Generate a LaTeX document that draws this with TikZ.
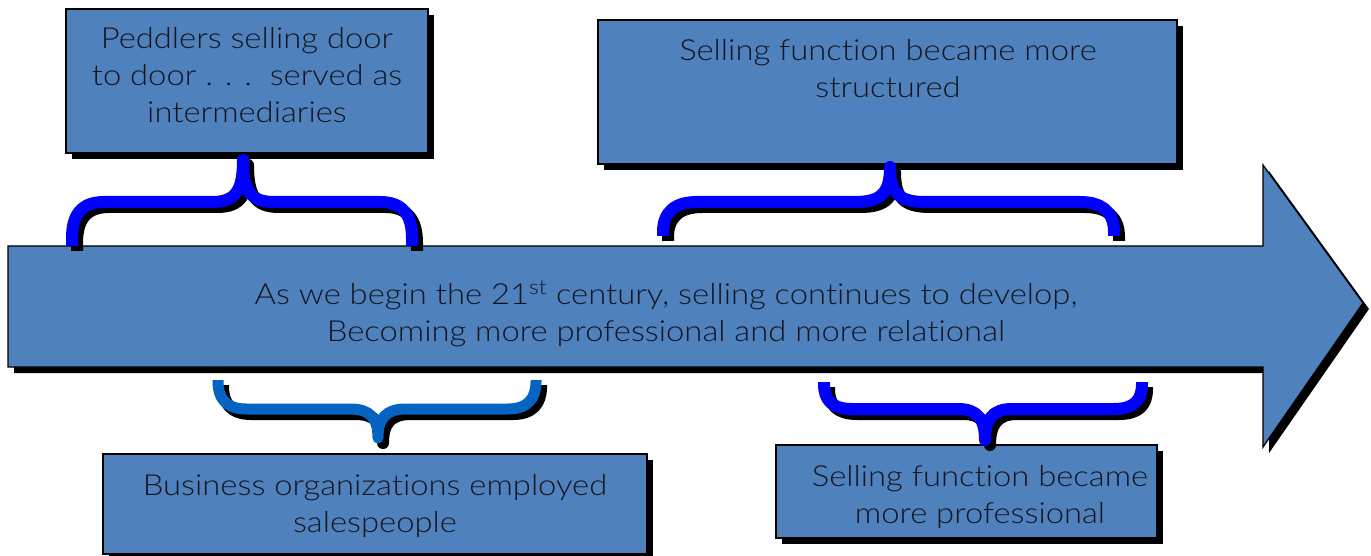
\documentclass[tikz,border=0pt]{standalone}
\usepackage{fontspec}
\IfFontExistsTF{Lato Light}{\setmainfont{Lato Light}[FakeStretch=1.13,Ligatures=NoCommon]}{\setmainfont{Lato}[FakeStretch=1.1,Ligatures=NoCommon]}
\begin{document}
\begin{tikzpicture}[x=1pt,y=-1pt,
  boxfill/.style={fill={rgb,255:red,79;green,129;blue,189}},
  panel/.style={boxfill,draw=black,line width=1.3pt},
  shade/.style={fill=black},
  label/.style={align=center,text={rgb,255:red,20;green,20;blue,30},
    font=\fontsize{29}{37}\selectfont,inner sep=0pt},
  bracepath/.style={line width=12pt,line join=round,line cap=butt},
  bracebright/.style={bracepath,draw={rgb,255:red,0;green,0;blue,255}},
  bracedeep/.style={bracepath,line width=11pt,draw={rgb,255:red,5;green,99;blue,193}},
  braceshadow/.style={bracepath,draw=black}]
\useasboundingbox (0,0) rectangle (1371,556);

% the timeline arrow, with its drop shadow
\fill[shade] (14,252) -- (1269,252) -- (1269,171) -- (1369,309) -- (1269,453) -- (1269,373) -- (14,373) -- cycle;
\draw[panel] (8,246) -- (1263,246) -- (1263,165) -- (1363,303) -- (1263,447) -- (1263,367) -- (8,367) -- cycle;
% multi-line labels are placed by the baseline of their last line
\node[label,anchor=base] (arrowtxt) at (666,341)
  {As we begin the 21\textsuperscript{st} century, selling continues to develop,\\
   Becoming more professional and more relational};

% boxes with drop shadows
\fill[shade] (72,15) rectangle (434,159);
\draw[panel] (66,9) rectangle (428,153);
\node[label,anchor=base] (t1) at (247,123) {Peddlers selling door\\to door . . .\ \ served as\\intermediaries};

\fill[shade] (604,26) rectangle (1183,170);
\draw[panel] (598,20) rectangle (1177,164);
\node[label,anchor=base] (t2) at (888,98) {Selling function became more\\structured};

\fill[shade] (109,460) rectangle (653,560);
\draw[panel] (103,454) rectangle (647,554);
\node[label,anchor=base] (t3) at (375,532) {Business organizations employed\\salespeople};

\fill[shade] (782,451) rectangle (1163,544);
\draw[panel] (776,445) rectangle (1157,538);
\node[label,anchor=base] (t4) at (980,523) {Selling function became\\more professional};

% upper braces (tip pointing up to the box above)
\begin{scope}[shift={(5,5)}]
  \draw[braceshadow] (72,246) -- (72,238) .. controls (72,214) and (82,202) .. (104,202)
    -- (212,202) .. controls (236,202) and (243,190) .. (243,160)
    .. controls (243,190) and (250,202) .. (274,202)
    -- (380,202) .. controls (402,202) and (412,214) .. (412,238) -- (412,246);
  \draw[braceshadow] (663,236) -- (663,232) .. controls (663,212) and (675,202) .. (697,202)
    -- (855,202) .. controls (882,202) and (890,192) .. (890,167)
    .. controls (890,192) and (898,202) .. (925,202)
    -- (1080,202) .. controls (1102,202) and (1114,212) .. (1114,232) -- (1114,236);
\end{scope}
\draw[bracebright] (72,246) -- (72,238) .. controls (72,214) and (82,202) .. (104,202)
  -- (212,202) .. controls (236,202) and (243,190) .. (243,160)
  .. controls (243,190) and (250,202) .. (274,202)
  -- (380,202) .. controls (402,202) and (412,214) .. (412,238) -- (412,246);
\draw[bracebright] (663,236) -- (663,232) .. controls (663,212) and (675,202) .. (697,202)
  -- (855,202) .. controls (882,202) and (890,192) .. (890,167)
  .. controls (890,192) and (898,202) .. (925,202)
  -- (1080,202) .. controls (1102,202) and (1114,212) .. (1114,232) -- (1114,236);

% lower braces (tip pointing down to the box below)
\begin{scope}[shift={(5,5)}]
  \draw[braceshadow] (218,380) -- (218,382) .. controls (218,398) and (226,409) .. (246,409)
    -- (350,409) .. controls (370,409) and (378,418) .. (378,438)
    .. controls (378,418) and (386,409) .. (406,409)
    -- (508,409) .. controls (528,409) and (536,398) .. (536,382) -- (536,380);
  \draw[braceshadow] (824,382) -- (824,384) .. controls (824,400) and (832,409) .. (852,409)
    -- (958,409) .. controls (978,409) and (985,420) .. (985,440)
    .. controls (985,420) and (992,409) .. (1012,409)
    -- (1114,409) .. controls (1134,409) and (1142,400) .. (1142,384) -- (1142,382);
\end{scope}
\draw[bracedeep] (218,380) -- (218,382) .. controls (218,398) and (226,409) .. (246,409)
  -- (350,409) .. controls (370,409) and (378,418) .. (378,438)
  .. controls (378,418) and (386,409) .. (406,409)
  -- (508,409) .. controls (528,409) and (536,398) .. (536,382) -- (536,380);
\draw[bracebright] (824,382) -- (824,384) .. controls (824,400) and (832,409) .. (852,409)
  -- (958,409) .. controls (978,409) and (985,420) .. (985,440)
  .. controls (985,420) and (992,409) .. (1012,409)
  -- (1114,409) .. controls (1134,409) and (1142,400) .. (1142,384) -- (1142,382);
\end{tikzpicture}
\end{document}
